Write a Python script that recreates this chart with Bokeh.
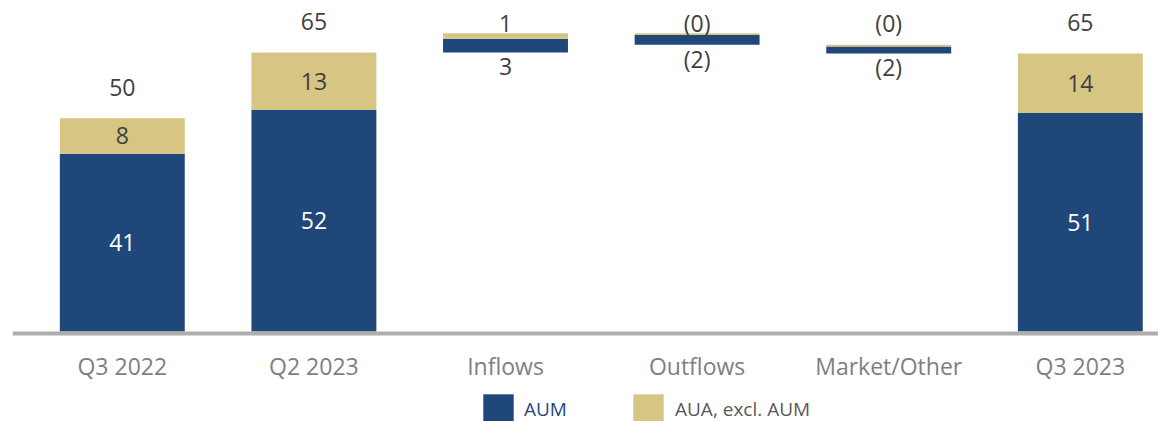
from bokeh.plotting import figure
from bokeh.models import ColumnDataSource, FixedTicker, Legend, LegendItem
from bokeh.core.properties import value
from bokeh.embed import file_html
from bokeh.resources import INLINE

# Assets bridge, $bn: AUM and AUA (excluding AUM)
categories = ["Q3 2022", "Q2 2023", "Inflows", "Outflows", "Market/Other", "Q3 2023"]
kinds = ["total", "total", "flow", "flow", "flow", "total"]
aum = [41.4, 51.6, 3.2, -2.3, -1.6, 50.9]
aua = [8.3, 13.4, 1.3, -0.4, -0.4, 13.9]

BLUE = "#1F477A"
GOLD = "#D7C583"
FONT = "Open Sans"
DARK = "#404040"


def fmt(v):
    return f"({abs(v):.0f})" if v < 0 else f"{v:.0f}"


# Segment extents: totals stand on zero, flows float on the running level
xs = list(range(len(categories)))
aum_bottom, aum_top, aua_bottom, aua_top = [], [], [], []
level = 0.0
for k, a, b in zip(kinds, aum, aua):
    if k == "total":
        aum_bottom.append(0.0)
        aum_top.append(a)
        aua_bottom.append(a)
        aua_top.append(a + b)
        level = a + b
    elif a >= 0:
        aum_bottom.append(level)
        aum_top.append(level + a)
        aua_bottom.append(level + a)
        aua_top.append(level + a + b)
        level += a + b
    else:
        aua_top.append(level)
        aua_bottom.append(level + b)
        aum_top.append(level + b)
        aum_bottom.append(level + a + b)
        level += a + b

src = ColumnDataSource(dict(x=xs, aum_bottom=aum_bottom, aum_top=aum_top,
                            aua_bottom=aua_bottom, aua_top=aua_top))

p = figure(width=1158, height=421, x_range=(-0.573, 5.408), y_range=(-20.97, 77.12),
           output_backend="svg", toolbar_location=None,
           min_border_left=12, min_border_right=0, min_border_top=0, min_border_bottom=0)
p.outline_line_color = None
p.xgrid.visible = False
p.ygrid.visible = False
p.yaxis.visible = False

BAR_W = 0.652
r_aum = p.vbar(x="x", width=BAR_W, bottom="aum_bottom", top="aum_top", source=src,
               fill_color=BLUE, line_color=None)
r_aua = p.vbar(x="x", width=BAR_W, bottom="aua_bottom", top="aua_top", source=src,
               fill_color=GOLD, line_color=None)

# Data labels
flow_top = max(aua_top[i] for i, k in enumerate(kinds) if k == "flow")
lx, ly, lt, lc, loff = [], [], [], [], []
for i, k in enumerate(kinds):
    if k == "total":
        lx += [i, i, i]
        ly += [(aum_bottom[i] + aum_top[i]) / 2, (aua_bottom[i] + aua_top[i]) / 2, aua_top[i]]
        lt += [fmt(aum[i]), fmt(aua[i]), fmt(aum[i] + aua[i])]
        lc += ["white", DARK, DARK]
        loff += [0, 0, -31]
    else:
        lx += [i, i]
        ly += [flow_top, aum_bottom[i]]
        lt += [fmt(aua[i]), fmt(aum[i])]
        lc += [DARK, DARK]
        loff += [-10, 14]

lab = ColumnDataSource(dict(x=lx, y=ly, t=lt, c=lc, off=loff))
p.text(x="x", y="y", text="t", text_color="c", y_offset="off", source=lab,
       text_align="center", text_baseline="middle",
       text_font=value(FONT), text_font_size="23px")

# Category axis sitting on the zero line
ax = p.xaxis[0]
ax.fixed_location = -0.58
ax.ticker = FixedTicker(ticks=xs)
ax.major_label_overrides = {i: c for i, c in enumerate(categories)}
ax.axis_line_color = "#ADADAD"
ax.axis_line_width = 4
ax.major_tick_line_color = None
ax.minor_tick_line_color = None
ax.major_label_standoff = 10
ax.major_label_text_font = FONT
ax.major_label_text_font_size = "23px"
ax.major_label_text_color = "#7F7F7F"


def legend_for(label, renderer, x, standoff, color):
    # area swatches are inset by 10% per side, so 38 px boxes give ~30 px squares
    return Legend(items=[LegendItem(label=label, renderers=[renderer])],
                  location=(x, -7), orientation="horizontal",
                  glyph_width=38, glyph_height=38, label_standoff=standoff,
                  label_text_font=FONT, label_text_font_size="19px",
                  label_text_color=color, padding=0, margin=0, spacing=0,
                  border_line_color=None, background_fill_alpha=0)


p.add_layout(legend_for("AUM", r_aum, 467, 7, "#1F497D"))
p.add_layout(legend_for("AUA, excl. AUM", r_aua, 617, 8, "#595959"))

open("out.html", "w").write(file_html(p, INLINE))
